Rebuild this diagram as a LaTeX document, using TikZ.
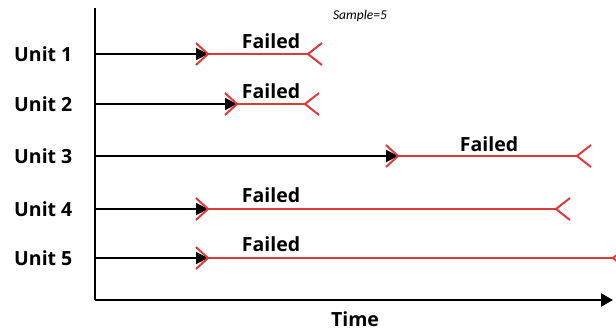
\documentclass[tikz,border=0pt]{standalone}
\usepackage{fontspec}
\setmainfont{Open Sans}
\newfontfamily\notefont{Carlito}
\usetikzlibrary{arrows.meta}
\definecolor{failred}{RGB}{222,56,56}

\begin{document}
\begin{tikzpicture}[x=1pt, y=-1pt,
        unit/.style={font=\fontsize{19.5}{23}\selectfont\bfseries, anchor=west, inner sep=0pt},
        lbl/.style={font=\fontsize{19.5}{23}\selectfont\bfseries, anchor=base, inner sep=0pt},
        arrow/.style={-{Triangle[length=12pt, width=12pt]}, line width=2pt},
        axis/.style={line width=2.2pt},
        failline/.style={draw=failred, line width=2pt},
        pics/failin/.style={code={\draw[failline] (-12,-11) -- (0,0) -- (-12,11);}},
        pics/failout/.style={code={\draw[failline] (14,-11) -- (0,0) -- (14,11);}}
    ]
    \clip (0,0) rectangle (616,333);

    % Axes
    \coordinate (top) at (95,8);
    \coordinate (origin) at (95,300);
    \coordinate (right) at (613,300);
    \draw[axis] (top) -- (origin);
    \draw[axis, -{Triangle[length=12pt, width=13pt]}] (origin) -- (right);
    \node[lbl] (time) at (355,326) {Time};
    \node[font=\notefont\fontsize{13.5}{16}\selectfont\itshape, anchor=base] (sample) at (360,19) {Sample=5};

    % Units
    \node[unit] (u1) at (14,54) {Unit 1};
    \node[unit] (u2) at (14,104) {Unit 2};
    \node[unit] (u3) at (14,156) {Unit 3};
    \node[unit] (u4) at (14,209) {Unit 4};
    \node[unit] (u5) at (14,258) {Unit 5};

    % Running time
    \coordinate (a1) at (95,54);   \coordinate (s1) at (208,54);  \coordinate (e1) at (308,54);
    \coordinate (a2) at (95,104);  \coordinate (s2) at (237,104); \coordinate (e2) at (305,104);
    \coordinate (a3) at (95,156);  \coordinate (s3) at (398,156); \coordinate (e3) at (577,156);
    \coordinate (a4) at (95,209);  \coordinate (s4) at (208,209); \coordinate (e4) at (556,209);
    \coordinate (a5) at (95,258);  \coordinate (s5) at (208,258); \coordinate (e5) at (613,258);
    \draw[arrow] (a1) -- (s1);
    \draw[arrow] (a2) -- (s2);
    \draw[arrow] (a3) -- (s3);
    \draw[arrow] (a4) -- (s4);
    \draw[arrow] (a5) -- (s5);

    % Failed periods
    \draw[failline] (s1) -- (e1);
    \draw[failline] (s2) -- (e2);
    \draw[failline] (s3) -- (e3);
    \draw[failline] (s4) -- (e4);
    \draw[failline] (s5) -- (e5);
    \pic at (s1) {failin}; \pic at (e1) {failout};
    \pic at (s2) {failin}; \pic at (e2) {failout};
    \pic at (s3) {failin}; \pic at (e3) {failout};
    \pic at (s4) {failin}; \pic at (e4) {failout};
    \pic at (s5) {failin}; \pic at (e5) {failout};

    % Labels
    \node[lbl] (f1) at (271,48) {Failed};
    \node[lbl] (f2) at (271,98) {Failed};
    \node[lbl] (f3) at (489,151) {Failed};
    \node[lbl] (f4) at (271,202) {Failed};
    \node[lbl] (f5) at (271,251) {Failed};

\end{tikzpicture}
\end{document}
